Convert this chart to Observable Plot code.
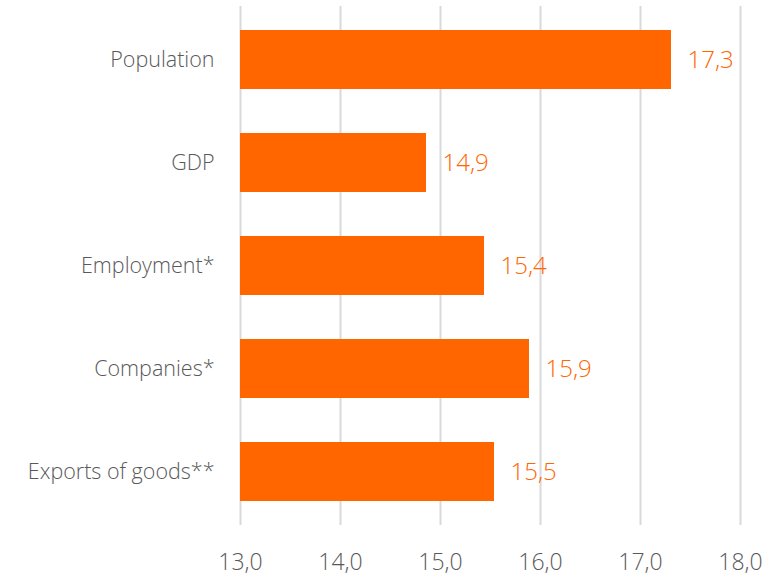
<!DOCTYPE html>
<html>
<head>
<meta charset="utf-8">
<script src="https://cdn.jsdelivr.net/npm/d3@7"></script>
<script src="https://cdn.jsdelivr.net/npm/@observablehq/plot@0.6"></script>
<style>
  html, body { margin: 0; padding: 0; background: #fff; }
  #chart svg { font-family: "Open Sans", "Segoe UI", sans-serif; font-weight: 300; }
</style>
</head>
<body>
<div id="chart"></div>
<script>
const categories = ["Population", "GDP", "Employment*", "Companies*", "Exports of goods**"];
const values = [17.31, 14.86, 15.44, 15.89, 15.54];
const xTicks = [13, 14, 15, 16, 17, 18];

const data = categories.map((c, i) => ({category: c, value: values[i]}));
const fmt = v => (Math.round(v * 10) / 10).toFixed(1).replace(".", ",");

const chart = Plot.plot({
  width: 773,
  height: 578,
  marginLeft: 240,
  marginRight: 33,
  marginTop: 6,
  marginBottom: 53,
  style: {fontFamily: "'Open Sans', sans-serif", fontWeight: 300, background: "#fff"},
  x: {domain: [13, 18], ticks: xTicks, tickFormat: fmt, label: null},
  y: {domain: categories, label: null, paddingInner: 0.43, paddingOuter: 0.22},
  marks: [
    Plot.gridX(xTicks, {stroke: "#d9d9d9", strokeOpacity: 1, strokeWidth: 2}),
    Plot.barX(data, {x1: 13, x2: "value", y: "category", fill: "#ff6600"}),
    Plot.text(data, {x: "value", y: "category", text: d => fmt(d.value), textAnchor: "start", dx: 16, fill: "#ff6600", fontSize: 24}),
    Plot.axisX({ticks: xTicks, tickFormat: fmt, tickSize: 0, tickPadding: 28, fontSize: 23, color: "#595959", label: null}),
    Plot.axisY({tickSize: 0, tickPadding: 26, fontSize: 21.5, color: "#595959", label: null})
  ]
});
document.getElementById("chart").appendChild(chart);
</script>
</body>
</html>
